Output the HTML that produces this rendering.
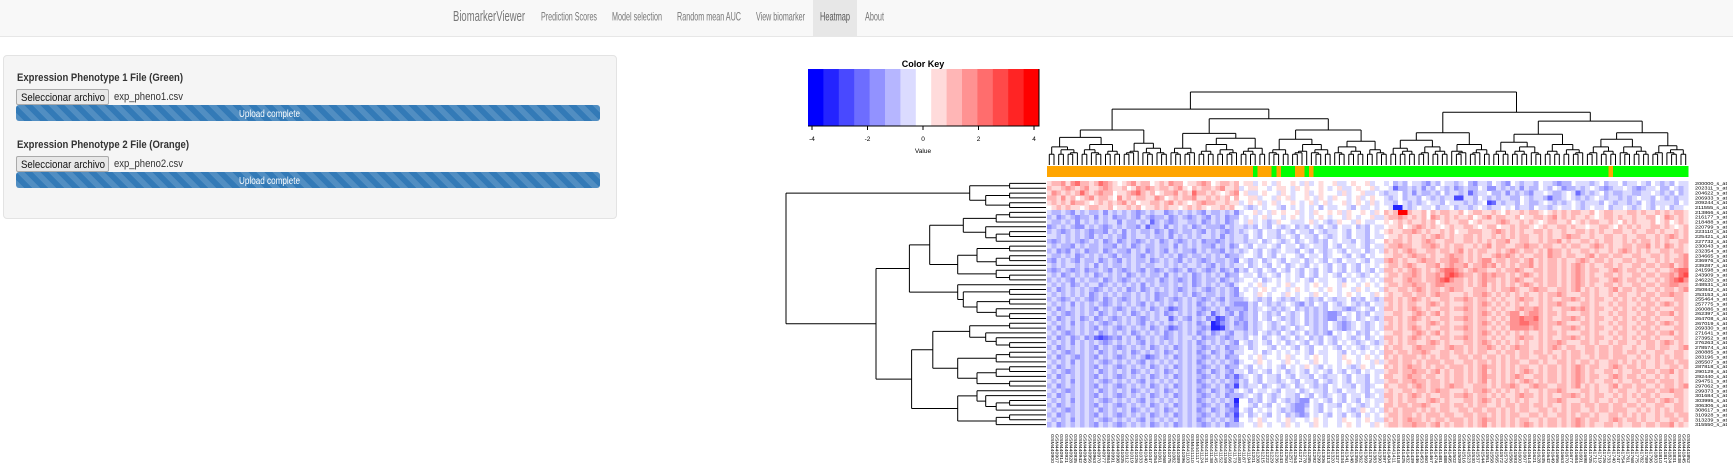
<!DOCTYPE html>
<html><head><meta charset="utf-8">
<style>
*{margin:0;padding:0;box-sizing:border-box}
body{width:1733px;height:474px;overflow:hidden;background:#fff;font-family:"Liberation Sans",Arial,sans-serif;position:relative}
.nav{position:absolute;left:0;top:0;width:1733px;height:37px;background:#f8f8f8;border-bottom:1px solid #e7e7e7}
.active{position:absolute;left:813px;top:0;width:44px;height:37px;background:#e7e7e7}
.panel{position:absolute;left:3px;top:55px;width:614px;height:164px;background:#f5f5f5;border:1px solid #e3e3e3;border-radius:4px}
.btn{position:absolute;left:16px;width:93px;height:16px;border:1px solid #aaa;background:#e8e8e8;border-radius:2px}
.bar{position:absolute;left:16px;width:584px;height:16px;border-radius:3px;background-color:#337ab7;background-image:linear-gradient(45deg,rgba(255,255,255,.15) 25%,transparent 25%,transparent 50%,rgba(255,255,255,.15) 50%,rgba(255,255,255,.15) 75%,transparent 75%,transparent);background-size:16px 16px}
svg{position:absolute;left:0;top:0}
</style></head><body>
<div class="nav"><div class="active"></div></div>
<div class="panel"></div>
<div class="btn" style="top:89px"></div>
<div class="bar" style="top:105px"></div>
<div class="btn" style="top:156px"></div>
<div class="bar" style="top:172px"></div>
<svg width="1733" height="474" font-family="Liberation Sans, Arial, sans-serif">
<text x="453" y="21" font-size="15" fill="#777" textLength="72" lengthAdjust="spacingAndGlyphs">BiomarkerViewer</text>
<text x="541" y="20.5" font-size="12" fill="#777" textLength="56" lengthAdjust="spacingAndGlyphs">Prediction Scores</text>
<text x="612" y="20.5" font-size="12" fill="#777" textLength="50" lengthAdjust="spacingAndGlyphs">Model selection</text>
<text x="677" y="20.5" font-size="12" fill="#777" textLength="64" lengthAdjust="spacingAndGlyphs">Random mean AUC</text>
<text x="756" y="20.5" font-size="12" fill="#777" textLength="49" lengthAdjust="spacingAndGlyphs">View biomarker</text>
<text x="820" y="20.5" font-size="12" fill="#555" textLength="30" lengthAdjust="spacingAndGlyphs">Heatmap</text>
<text x="865" y="20.5" font-size="12" fill="#777" textLength="19" lengthAdjust="spacingAndGlyphs">About</text>
<text x="17" y="81" font-size="11" font-weight="bold" fill="#333" textLength="166" lengthAdjust="spacingAndGlyphs">Expression Phenotype 1 File (Green)</text>
<text x="21" y="101" font-size="11" fill="#111" textLength="84" lengthAdjust="spacingAndGlyphs">Seleccionar archivo</text>
<text x="114" y="100" font-size="11" fill="#333" textLength="69" lengthAdjust="spacingAndGlyphs">exp_pheno1.csv</text>
<text x="239" y="117" font-size="10" fill="#fff" textLength="61" lengthAdjust="spacingAndGlyphs">Upload complete</text>
<text x="17" y="148" font-size="11" font-weight="bold" fill="#333" textLength="172" lengthAdjust="spacingAndGlyphs">Expression Phenotype 2 File (Orange)</text>
<text x="21" y="168" font-size="11" fill="#111" textLength="84" lengthAdjust="spacingAndGlyphs">Seleccionar archivo</text>
<text x="114" y="167" font-size="11" fill="#333" textLength="69" lengthAdjust="spacingAndGlyphs">exp_pheno2.csv</text>
<text x="239" y="184" font-size="10" fill="#fff" textLength="61" lengthAdjust="spacingAndGlyphs">Upload complete</text>
</svg>
<svg id="hm" width="1733" height="474"></svg>
<script>
const levels = "abcdefghijklmno";
const keyTicks = [-4,-2,0,2,4];
const orangeCols = [[0,43],[45,47],[49,49],[53,54],[56,56],[120,120]];
const colSplits = [0.53,0.35,0.6,0.45,0.3,0.55,0.4,0.65,0.5,0.38,0.58,0.47];
const rowSplits = [0.118,0.3,0.55,0.42,0.6,0.35,0.5,0.65,0.45,0.38,0.58];
const rows = [
"ijjki kljji jlkji hijki jjhij ikjjh iijkj hijji j|hiigh ihgih hihgi ghihh igghi hhigh h|ghfgf hggfe gfhgg fghfe ggfhg fehgf ggfhg gfeff hgggf ghfgg hfggh gfhgf gfhgg",
"jiijk jijki ijkji ijhik jkjij jijki hjijj ijkii j|ghiih hghii hgihi hhihg higgh ihhig h|hgdff gfgeg fhgfg efgff hgeeg fgfge gffhg fhgef fgfgh gfefg ghgfe fgghf fhgfg",
"ikjij ijlji jkjjh iijkl jijhi jjkij iljji jihij k|higgh ihhgi hghhi ghihh hgigh higgh g|fgghf gegff gfhfg gfgdf gghff gegfg feggh gffgh gdfgf ghfgf fggff gghgf gfhfg",
"jjiki jhijk ijjih kijij jiikj hijij jkiij ijijh j|hhiig hhgih ighhi hgihg ihhgh ighih h|gfghf ggfhg fgfgg ccggf hgfgf ggffh gfggf dffgh gfgfg hgfgg fgfgh ggfhg fgfgg",
"ijiji kjjih ijiji jkijh iijji jkiji hijkj jiiji i|ghihi ghigh hihgh ighig hhigh ihgig h|ggfhg fgfgh ggfhg ggfgf ghcdg fggfh gffgh gfgfg hgfgg gfhgf ggfgf hgfgg ggfhg",
"hijij iihij jiijh iijij hiiji jiihi jijih iijij h|hgfgh ghhgf hghgh ghfhg ghhgf hgghg h|hgbbg fghgg hfggh fggfg hgfgg hghfg gfhgg fghgg hgfgh gghfg ghgfg hgfhg hfggh",
"gffgf egfgf fgegf gfgfe fgfgg efgfg fgfeg ffgfg e|ghhig hgihi hhigh gihhi higih hihgi h|jijoo jiijh jijji ijhij jiiji hjiij ijjih ijiji jjiij hijji iijji jiiji jijji",
"fgefg feffg egfge ffgfe gfeff gefgf efgfe gfgef f|hghgh ighhg hihgh ghihg hhgih ghhig g|ijjkj ijijh kjiji jiijh ijkij jiijh iijji jkiji jiiji hijji jiiji ijjhi kjiji",
"gffgf gegfg fgfgg egffg fgdfg fefgg ffgef gfgef g|hgigh gfgih hgggh ighgf gihhg ihggh h|ihiji jiiji jhiji ijjhi jiiij kjiij ijihi jjiij hijij jiiji hjiji iijhi jhiji",
"efgfg feegf gfefg fgffe gdffg egfgf gefgf ffegf g|gfgfh gfhgf ghfgf hgfhg fhggh fgfhg g|hiijh ijkji jihij iijji hijjh iijij jihij iijji jiihi ijjih jijij iijji jihij",
"fgfef gfgfe ffegf gegfg ffgef gefgf fgfeg fgfef g|fghgf hggfh gfhgg fhgfg ghgfh ggfhg h|ijiij jkjij iijij hiijj jiijk jijij iijji jiiji ijjij ijiij jiiji ijjij iijij",
"ggfgf gfgfe gfgfg fegfg gfgff gegfg fgfgg fgegf g|gfhgf hggfg hgfhg gfhgf ghgfh ggfhg g|hiiji jiiji jkjij iijji jiiji jijij jiiji jiijk jjiij iijji ijiij jiiji jkjij",
"fefgf gfefg fgefg efgfe fgfge fgfef gfgef fefgf g|gfggh fghgf ghfgh gfgfh ghggf hgfgh h|jijji jiijk jiijj iijji jijij jkiij jiiji jjkij iijji jijji ijiji jjiji jiijj",
"gfgff egfgf fgffe gfgef gffgf fgegf gfgff egfge f|hgfhg ghgfh gghfg hggfh gfhgg hgfhg g|ijjkj jiijj kjiji jjiij ijkij jiijj kjjij jiiji jjiij kjiji ijjij jkiji kjiji",
"fgefe gfgef fgefg ffegf gefgf egfgf fegfg ffegf g|fghgf hgfgh ggfhg fhgfg hgfhg ghfgh g|jijij kjiij jijji jkiji jjiij ijkji jjiji kjjij iijji jiiji jkjij ijiij jijji",
"gffgf gefgf gfgfe gffgf egfgf gfgef gffgf gfgef f|ghhgf hgfhg hhgfh gghfg hhgfh gfhgh h|iijji jkjji jiijk jjiji jiijk jkjij iijji kjjij jiijk ijjij jiijj iijji jiijk",
"fegfg fegff gefgf egfgf fgefg fgfeg fgfef gffgf e|hgfgh fghgf hgghf ghgfh gfhgg hgfhg g|jkjij iijkj jijjk kjiji jkkij jijji jkiji jjiji ijkji jjiji ijjij jiiji jijjk",
"gfgfg gfgfg egfgf fgfgf gffgg fgfgf ggfgf egfgf g|ghfgh gfhgh fghgf hghgf hgfhg fhghg h|ijjij kjiij jkijk jjkij jkjki jijij jkiji jjiji jkjij iijji jiijj ijjij jkijk",
"fefgf efgef fgfeg fefgf egfef gfefg efgfe fgefg e|gfhgf hgfhg fhgfh gfhgf hgfhg fhgfh g|jjiji jkjij ijkll kjijk jjiij ijjkj iijji jjiji jkjij jiijk jijji jiiji ijkll",
"gfgef gfgfg efgfg fgefg fgffg egfgf gefgf gfgef f|hgghf ghgfh ghgfh gfhgh gfhgh gfghg h|ijjij jkjij jkjlm lkjji jkjkj jijij kjiji jjiji jkjij iijji jiijj ijjij jkjlm",
"fgfgf egfgf fgefg fefgf gffge fgfef gefgf fgefg f|ghhgh fghgh ghghg fhggh hgfhg hghgh g|jjiij kjjij jklmk jjiji jkjji jijkj iijji jjiji jkjij jiijk jijji jiiji jklmk",
"gfgfg efgfg gefgf gfgfg egfgf fgfgf gefgf gfgfe g|hhghi ghhgh ighhg hihgh hgihh ghihg h|ijjij jkjji jkkjj jjiji jkiji jijij kjiji jjiji jkjij iijji jiijj ijjij jkkjj",
"fgefg fgfgf efgfg fgefg efgfg fgfef gfgfe fgfgf e|hghgh ihghh ghihg hhghi hghhg ihghh g|jiijj ijkji jjijk jjiij jjiji jjkji ijkjj iijji jkiji jiijk ijjij jiiji jjijk",
"gfgfg fgfge fgfgf gffgf gfgef fgfgf gefgf fgfgf e|ghhgi hghhg ihghh gihgh hghih ghhgi h|ijiij jijji jkjji iijij jkjij ijiji jiiji jjkji iijji jiiji jjiij ijjij jkjji",
"fgfef gfgfe fgefg fefgf gfgef gfefg fgfef gfegf f|fghgf gfhgf gfghg fgfhg fgghf gfhgf g|jjiji jkjij iijji jjkji jjiji jiijk jjiji jiijj kjiji jjiij ijiji jjiji iijji",
"gfgfg egfgf gfefg fgfgf egfgf gfgfg fgefg fgfgf e|eegfh gfgfg hgfeg fhgfh gfghg fgfhg g|ijiji jjiij kjiji iijji jkjij ijiji jiiji jjkji iijji jiiji jjiij ijjij kjiji",
"fgefg fgfgf egfgf efgfg fgefg fdefg fgfef gfgef f|fegfg hgfgf ghfgf gfgfh ggfef ghgfh g|jjiji jkjij iijji jjkji jjiji jiijk jjkji jiijj kjkji jjiij ijiji jjiji iijji",
"gfgfe fgfgf gefgf gfgef gfgfg efgfg fgefg dfgfe g|efgfh gfgfh gfghf gfgfe efhgh fgfhg g|iijji ijkji jkiji iijji jkjij ijkki jkkji jjiji iijji jiiji jjiij ijjij jkiji",
"fgefg fgefg efgfe fgfgf efgfg gdfgf egfge fcdfg f|efgfh gfhgf gfghf gfgfe egfgh fghgf g|jjiji jkjij iijji jjkji jjiji jikkl kklji jiijj kjiji jjiij ijiji jjiji iijji",
"gfgfg egfgf gfefg fgfgf egfgf gfgfg fgefg bcefg e|fegfg hgfgh gfghf gfgfh gfefg hgfgh g|ijiji jjiij kjiji iijji jkjij ijkkl lkkji jjkji iijji jiiji jjiij ijjij kjiji",
"fgefg fgfgf egfgf efgfg fgefg fdefg fgfef bbcfg f|fegfg hgfgf ghfgh gfgfh gfefg hgfgh g|jjiji jkjij iijji jjkji jjiji jikkk kjkji jiijj kjiji jjiij ijiji jjiji iijji",
"gfgfe fgfgf gefgf gfgef gfgfg efgfg fgefg efgfe g|gfgfh gfgfh gfghf gfgfe hghgh fgfhg h|iijji ijkji jkiji iijji jkjij ijiji jiiji jjiji iijji jiiji jjiij ijjij jkiji",
"fgefg efgef dcdef egfge fgfgf efgfg gfgef fgfef g|gfhgh fghgf ghfgh fgfhg fghgf ghfgh g|jjiji jkjij iijji jjkji jjiji jiijk jjiji jiijj kjiji jjiij ijiji jjiji iijji",
"gfgfg egfgf gfefg fgfgf egfgf gfgfg fgefg fgfgf e|hgfgh gfhgh fghgf hgfhg fhghg fghgf g|ijiji jjiij kjiji iijji jkjij ijiji jiiji jjkji iijji jiiji jjiij ijjij kjiji",
"fgefg fgfgf egfgf efgfg fgefg fgefg fgfef gfgef f|ghfgh hgfhg hgfhg fhhgh gfhgh gfghg h|jijji ijkjj jiijk jjiji jjkji jijkj jiiji jkjij jiijj ijjij jiiji ijjij jiijk",
"gfgfe fgfgf gefgf gfgef gfgfg efgfg fgefg efgfe g|ghhgh fghgh ghghg fhggh hgfhg hghgh g|jjijj ijjkj iijji jjiji jjiij ijjij jijji jiiji jjijj ijjij jijji jiijj iijji",
"fgefg fefgf egfgf efgfg fdefg fgefg fgfef gfgef f|hhghi ghhgh ighhg hihgh hgihh ghihg h|jijij jjiji jijji ijjij jijji jijij jiijj ijiji jjiij ijjij jjiij ijiji jijji",
"gfgfg egfgf gfefg fgfgf egfgf gfgfg fgefg fgfgf e|ghhgi hghhg ihghh gihgh hghih ghhgi g|ijjij jijij jjijj iijji jjiji jijji ijjij iijji jijji jiijj ijiji jiiji jjijj",
"fgefg fgfgf egfgf efgfg fgefg fgefg fgfef gfgef f|hgfhg hghgf hghgi hgfhg hghgf gihgh h|jijij kjjij ijjij jjiji jkjji jijij jiiji jjiji jkjij jiijk jijji jiiji ijjij",
"gfgfe fgfgf gefgf gfgef gfgfg efgfg fgefg efgfe g|ghfgh gfhgh fghgf hghgf hgfhg fhghg g|ijjij jkjji jkiji jjiji jkiji jijij kjiji jjiji jkjij iijji jiijj ijjij jkiji",
"fgefg fgfgf egfgf efgfg fgefg fgefg fgfef gfgef d|fghgf hggfh gfhgg fhgfg ghgfh ggfhg h|jjiij kjjij jiiji jjiji jkjji jijkj iijji jjiji jkjij jiijk jijji jiiji jiiji",
"gfgfg egfgf gfefg fgfgf egfgf gfgfg fgefg fgfgf e|gfhgf hggfg hgfhg gfhgf ghgfh ggfhg g|ijjij jkjji jjiji jjiji jkiji jijij kjiji jjiji jkjij iijji jiijj ijjij jjiji",
"fgefg fgfgf egfgf efgfg fgefg fgefg fgfef gfgef c|gfggh fghgf ghfgh gfgfh ghggf hgfgh h|jiijj ijkji jjijk jjiij jjiji jjkji ijkjj iijji jkiji jiijk ijjij jiiji jjijk",
"gfgfe fgfgf gefgf gfgef gfgfg efgfg fgefg efgfe g|hgfhg ghgfh gghfg hggfh gfhgg hgfhg g|ijiij jijji jkjji iijij jkjij ijiji jiiji jjkji iijji jiiji jjiij ijjij jkjji",
"fgefg fgfgf egfgf efgfg fgefg fgefg fgfef gfgef f|fghgf hgfgh ggfhg fhgfg hgfhg ghfgh g|jjiji jkjij iijji jjkji jjiji jiijk jjiji jiijj kjiji jjiij ijiji jjiji iijji",
"gfgfg egfgf gfefg fgfgf egfgf gfgfg fgefg fgfgf b|hhfgf hgfhg fgfee hghgf hgfhg fhghg g|ijiji jjiij kjiji iijji jkjij ijiji jiiji jjkji iijji jiiji jjiij ijjij kjiji",
"fgefg fgfgf egfgf efgfg fgefg fgefg fgfef gfgef c|hhgfh gfhgh gfeef hgfhg gfhgh gfghg h|jjijj ijjkj iijji jjiji jjiij ijjij jijji jiiji jjijj ijjij jijji jiijj iijji",
"gfgfe fgfgf gefgf gfgef gfgfg efgfg fgefg efgfe d|hgfhg hghgf gfeeg hgfhg hghgf gihgh g|jijij jjiji jijji ijjij jijji jijij jiijj ijiji jjiij ijjij jjiij ijiji jijji",
"fgefg fgfgf egfgf efgfg fgefg fgefg fgfef gfgef c|ghfgh gfhgh fgfef hghgf hgfhg fhghg h|ijjij jijij jjijj iijji jjiji jijji ijjij iijji jijji jiijj ijiji jiiji jjijj",
"gfgfg egfgf gfefg fgfgf egfgf gfgfg fgefg fgfgf d|hhghi ghhgh ighhg hihgh hgihh ghihg g|jijij kjjij ijjij jjiji jkjji jijij jiiji jjiji jkjij jiijk jijji jiiji ijjij",
"fgefg fgfgf egfgf efgfg fgefg fgefg fgfef gfgef f|ghhgi hghhg ihghh gihgh hghih ghhgi h|ijjij jkjji jkiji jjiji jkiji jijij kjiji jjiji jkjij iijji jiijj ijjij jkiji"
];
const NC = 137, NR = rows.length;
const colNames = []; for (let i = 0; i < NC; i++) colNames.push("GSM" + (440900 + i * 7));
const rowNames = []; for (let i = 0; i < NR; i++) rowNames.push((200000 + i * 2311) + "_s_at");

const NS = "http://www.w3.org/2000/svg";
const svg = document.getElementById("hm");
function mk(tag, attrs, parent) { const e = document.createElementNS(NS, tag); for (const k in attrs) e.setAttribute(k, attrs[k]); (parent || svg).appendChild(e); return e; }
function color(idx) {
  if (idx <= 7) { const v = Math.round(255 * idx / 7); return "rgb(" + v + "," + v + ",255)"; }
  const v = Math.round(255 * (14 - idx) / 7); return "rgb(255," + v + "," + v + ")";
}
const HX0 = 1047, HX1 = 1688, HY0 = 181, HY1 = 427;
const cw = (HX1 - HX0) / NC, ch = (HY1 - HY0) / NR;
const xCol = i => HX0 + i * cw, yRow = r => HY0 + r * ch;

// color key
const KX0 = 808, KX1 = 1039, KY0 = 69, KY1 = 126;
const kg = mk("g", { "font-family": "Liberation Sans, Arial, sans-serif" });
 
const kw = (KX1 - KX0) / 15;
for (let i = 0; i < 15; i++) { const r = mk("rect", { x: KX0 + i * kw, y: KY0, width: kw + 0.5, height: KY1 - KY0, fill: color(i) }, kg);
    }
mk("path", { d: `M${KX0} ${KY1}H${KX1}V${KY0}`, stroke: "#000", fill: "none", "stroke-width": 1 }, kg);
const kx = v => 812 + (v + 4) / 8 * (1034 - 812);
keyTicks.forEach(v => {
  mk("line", { x1: kx(v), x2: kx(v), y1: KY1, y2: KY1 + 4, stroke: "#000" }, kg);
  const t = mk("text", { x: kx(v), y: 141, "font-size": 6.5, "text-anchor": "middle", fill: "#000" }, kg); t.textContent = v;
   
});
const kt = mk("text", { x: 923, y: 67, "font-size": 9, "text-anchor": "middle", "font-weight": "bold" }, kg); kt.textContent = "Color Key";
 
const kv = mk("text", { x: 923, y: 153, "font-size": 6.5, "text-anchor": "middle" }, kg); kv.textContent = "Value";
 

// heatmap cells
const hg = mk("g", { "shape-rendering": "crispEdges" });
 
rows.forEach((s, r) => {
  const str = s.replace(/[ |]/g, "");
  for (let c = 0; c < NC; c++) {
    const ch1 = str[c] || "h"; const idx = levels.indexOf(ch1);
    if (ch1 === "h") continue;
    const cell = mk("rect", { x: xCol(c), y: yRow(r), width: cw + 0.3, height: ch + 0.3, fill: color(idx) }, hg);
     
  }
});
// side color bar
const sg = mk("g", { "shape-rendering": "crispEdges" });
 
for (let c = 0; c < NC; c++) {
  const org = orangeCols.some(([a, b]) => c >= a && c <= b);
  const sc = mk("rect", { x: xCol(c), y: 166, width: cw + 0.3, height: 11, fill: org ? "#ffa500" : "#00ff00" }, sg);
   
}
// dendrograms
function build(lo, hi, splits, st, levelFn, rootLevel, isRoot) {
  const n = hi - lo + 1;
  if (n === 1) return { pos: lo + 0.5, lev: levelFn(1), segs: [] };
  const f = splits[st.k++ % splits.length];
  let k = Math.max(1, Math.min(n - 1, Math.round(n * f)));
  const a = build(lo, lo + k - 1, splits, st, levelFn, rootLevel, false);
  const b = build(lo + k, hi, splits, st, levelFn, rootLevel, false);
  const lev = isRoot ? rootLevel : levelFn(n);
  const segs = a.segs.concat(b.segs);
  segs.push([a.pos, a.lev, a.pos, lev], [b.pos, b.lev, b.pos, lev], [a.pos, lev, b.pos, lev]);
  return { pos: (a.pos + b.pos) / 2, lev, segs };
}
const colTree = build(0, NC - 1, colSplits, { k: 0 }, n => n === 1 ? 165 : 165 - 10 - 62 * Math.pow(Math.log(n) / Math.log(NC), 2.2), 92, true);
let d = "";
colTree.segs.forEach(([p1, l1, p2, l2]) => { d += `M${(xCol(p1)).toFixed(1)} ${l1.toFixed(1)}L${(xCol(p2)).toFixed(1)} ${l2.toFixed(1)}`; });
const cd = mk("path", { d, stroke: "#000", fill: "none", "stroke-width": 1 });
 
const rowTree = build(0, NR - 1, rowSplits, { k: 0 }, n => n === 1 ? 1046 : 1046 - 20 - 150 * Math.pow(Math.log(n) / Math.log(45), 1.3), 786, true);
d = "";
rowTree.segs.forEach(([p1, l1, p2, l2]) => { d += `M${l1.toFixed(1)} ${yRow(p1).toFixed(1)}L${l2.toFixed(1)} ${yRow(p2).toFixed(1)}`; });
const rd = mk("path", { d, stroke: "#000", fill: "none", "stroke-width": 1 });
 
// labels
colNames.forEach((nm, i) => {
  const x = xCol(i + 0.5) + 1.5;
  const t = mk("text", { x: 0, y: 0, "font-size": 4.3, "font-family": "Liberation Sans, Arial, sans-serif", textLength: 29, lengthAdjust: "spacingAndGlyphs", transform: `translate(${x.toFixed(1)},434) rotate(90)`, fill: "#000" });
  t.textContent = nm;
   
});
rowNames.forEach((nm, r) => {
  const t = mk("text", { x: 1695, y: (yRow(r + 0.5) + 1.5).toFixed(1), "font-size": 4.3, "font-family": "Liberation Sans, Arial, sans-serif", textLength: 32, lengthAdjust: "spacingAndGlyphs", fill: "#000" });
  t.textContent = nm;
   
});
</script>
</body></html>
